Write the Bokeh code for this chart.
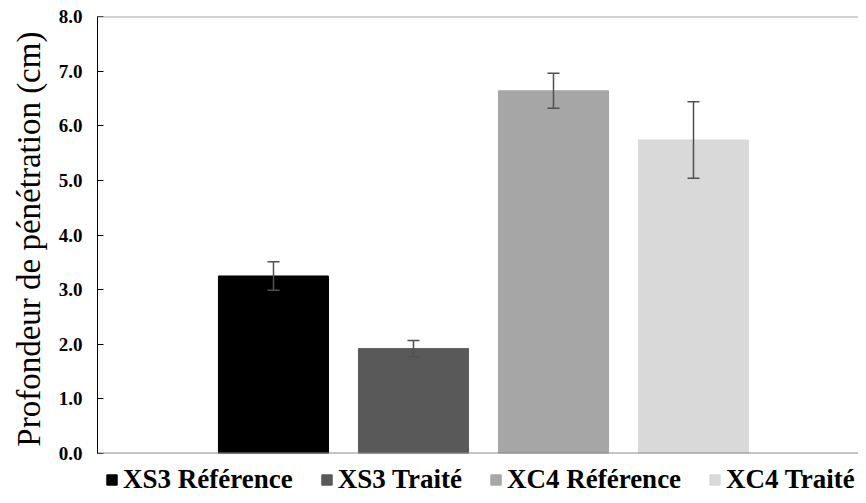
from bokeh.plotting import figure
from bokeh.layouts import column
from bokeh.models import ColumnDataSource, Whisker, Span, Legend, LegendItem, FixedTicker, NumeralTickFormatter, Range1d
from bokeh.embed import file_html
from bokeh.resources import INLINE

categories = ["XS3 Référence", "XS3 Traité", "XC4 Référence", "XC4 Traité"]
values = [3.25, 1.92, 6.64, 5.74]
errors = [0.26, 0.15, 0.32, 0.70]
colors = ["#000000", "#595959", "#a6a6a6", "#d9d9d9"]
y_ticks = [0, 1, 2, 3, 4, 5, 6, 7, 8]

xs = list(range(len(categories)))
src = ColumnDataSource(dict(
    x=xs, top=values, cat=categories, color=colors,
    upper=[v + e for v, e in zip(values, errors)],
    lower=[v - e for v, e in zip(values, errors)],
))

p = figure(width=858, height=463, output_backend="svg", toolbar_location=None,
           x_range=Range1d(-1.257, 3 + (858 - 693) / 140), y_range=Range1d(0, 8),
           min_border_left=97, min_border_top=16,
           min_border_right=0, min_border_bottom=10)
p.xaxis.visible = False
p.outline_line_color = None
p.xgrid.visible = False
p.ygrid.visible = False

r = p.vbar(x="x", top="top", width=0.786, color="color", source=src)

w = Whisker(base="x", upper="upper", lower="lower", source=src,
            line_color="#505050", line_width=1.5, level="overlay")
w.upper_head.size = 12
w.lower_head.size = 12
w.upper_head.line_color = "#505050"
w.lower_head.line_color = "#505050"
w.upper_head.line_width = 1.5
w.lower_head.line_width = 1.5
p.add_layout(w)

p.add_layout(Span(location=8, dimension="width", line_color="#a6a6a6", line_width=2))
p.add_layout(Span(location=0, dimension="width", line_color="#8c8c8c", line_width=2))

ax = p.yaxis[0]
ax.ticker = FixedTicker(ticks=y_ticks)
ax.formatter = NumeralTickFormatter(format="0.0")
ax.major_tick_in = 6
ax.major_tick_out = 0
ax.minor_tick_in = 0
ax.minor_tick_out = 0
ax.axis_line_color = "black"
ax.major_tick_line_color = "black"
ax.major_label_text_font = "Liberation Serif"
ax.major_label_text_font_style = "bold"
ax.major_label_text_font_size = "19px"
ax.major_label_text_color = "black"
ax.major_label_standoff = 15
ax.axis_label = "Profondeur  de pénétration (cm)"
ax.axis_label_text_font = "Liberation Serif"
ax.axis_label_text_font_style = "normal"
ax.axis_label_text_font_size = "33px"
ax.axis_label_text_color = "black"
ax.axis_label_standoff = 9

# legend strip below the chart
lg = figure(width=858, height=32, output_backend="svg", toolbar_location=None,
            x_range=Range1d(-20, -19), y_range=Range1d(0, 1),
            min_border_left=0, min_border_right=0, min_border_top=0, min_border_bottom=0)
lg.axis.visible = False
lg.grid.visible = False
lg.outline_line_color = None
r2 = lg.vbar(x="x", top="top", width=0.786, color="color", source=src)
items = [LegendItem(label=c, renderers=[r2], index=i) for i, c in enumerate(categories)]
legend = Legend(items=items, orientation="horizontal", location=(8, 0),
                glyph_width=13, glyph_height=13, label_standoff=5, spacing=27,
                label_text_font="Liberation Serif", label_text_font_style="bold",
                label_text_font_size="27px", label_text_color="black",
                border_line_color=None, background_fill_alpha=0,
                padding=0, margin=0)
lg.add_layout(legend, "center")

layout = column(p, lg, spacing=0)
open("out.html", "w").write(file_html(layout, INLINE))
